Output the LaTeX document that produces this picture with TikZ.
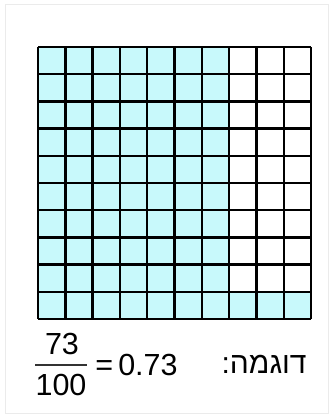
\documentclass[tikz,border=0pt]{standalone}
\usepackage{fontspec}
\setmainfont{Liberation Sans}
\newfontfamily\hebrewfont[Script=Hebrew]{Liberation Sans}
\TeXXeTstate=1
\usepackage{tikz}
\usetikzlibrary{positioning, calc}
\definecolor{cellcyan}{RGB}{200,249,251}

\begin{document}
\begin{tikzpicture}[x=1pt, y=-1pt, thick]
\tikzset{label text/.style={inner sep=0pt, font=\fontsize{30.5}{32}\selectfont}}
\useasboundingbox (0,0) rectangle (330,416);
% faint outer frame
\draw[black!8, line width=1pt] (5,4) rectangle (328,413);
% hundred-square, 73 cells shaded
\begin{scope}[shift={(38,47)}, x=27.3pt, y=-27.2pt]
\fill[cellcyan] (0,0) rectangle (7,10);
\fill[cellcyan] (7,9) rectangle (10,10);
\foreach \i in {0,...,10} {
  \draw[line width=2.4pt] (\i,0) -- (\i,10);
  \draw[line width=2.4pt] (0,\i) -- (10,\i);
}
\end{scope}
% fraction and decimal
\node[label text, anchor=base] (num) at (62,354.5) {73};
\node[label text, anchor=base] (den) at (61,395.5) {100};
\coordinate (barL) at (35,365);
\coordinate (barR) at (87,365);
\draw[line width=1.4pt, black!80] (barL) -- (barR);
\node[label text, anchor=base west] (val) at (95,375.5) {=\,0.73};
% caption word
\node[inner sep=0pt, anchor=base east, font=\hebrewfont\fontsize{30}{32}\selectfont] (ex) at (307,373.5) {\beginR דוגמה:\endR};
\end{tikzpicture}
\end{document}
